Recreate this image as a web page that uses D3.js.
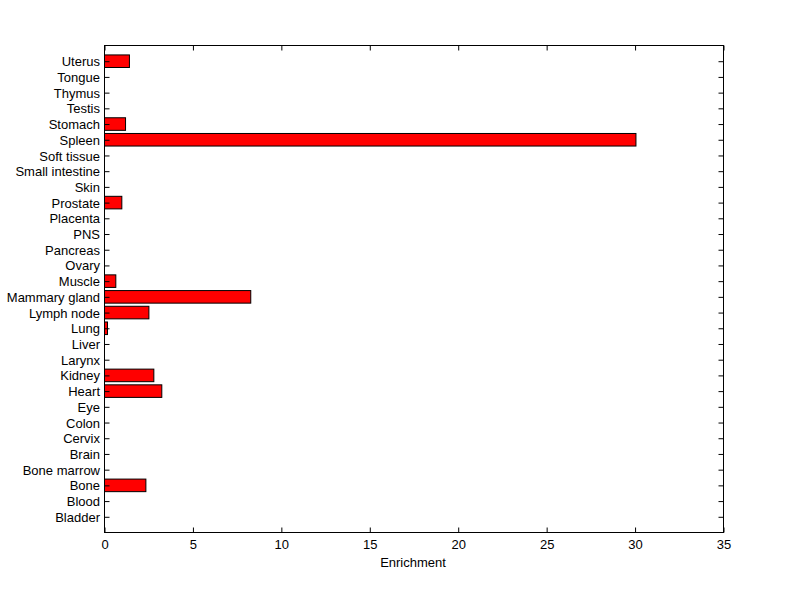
<!DOCTYPE html>
<html><head><meta charset="utf-8">
<script src="https://cdn.jsdelivr.net/npm/d3@7"></script>
<style>
body{margin:0;background:#fff;}
text{font-family:"Liberation Sans",Arial,sans-serif;font-size:13px;fill:#000;}
</style></head>
<body>
<svg id="c" width="800" height="599"></svg>
<script>
const categories = ["Bladder","Blood","Bone","Bone marrow","Brain","Cervix","Colon","Eye","Heart","Kidney","Larynx","Liver","Lung","Lymph node","Mammary gland","Muscle","Ovary","Pancreas","PNS","Placenta","Prostate","Skin","Small intestine","Soft tissue","Spleen","Stomach","Testis","Thymus","Tongue","Uterus"];
const values = [0,0,2.34,0,0,0,0,0,3.24,2.79,0,0,0.17,2.51,8.27,0.64,0,0,0,0,0.98,0,0,0,30.05,1.19,0,0,0,1.41];
const xTicks = [0,5,10,15,20,25,30,35];
const xLabel = "Enrichment";

const svg = d3.select("#c");
const L=104.5, R=723.5, T=45.5, B=532.5;
const FS = 13;
const FF = '"Liberation Sans",Arial,sans-serif';
const x = d3.scaleLinear().domain([0,35]).range([L,R]);
const y = d3.scaleLinear().domain([0,categories.length+1]).range([B,T]);
const bw = (y(0)-y(0.8));

// bars
svg.append("g").selectAll("rect").data(values).enter().append("rect")
  .attr("x", x(0))
  .attr("y", (d,i)=>y(i+1)-bw/2)
  .attr("width", d=>Math.max(0,x(d)-x(0)))
  .attr("height", bw)
  .attr("fill","#ff0000").attr("stroke","#000").attr("stroke-width",1)
  .style("display", d=>d>0?null:"none");

const tl = 5;
const gx = svg.append("g").attr("transform",`translate(0,${B})`)
  .call(d3.axisBottom(x).tickValues(xTicks).tickSize(-tl).tickPadding(7.5).tickFormat(d3.format("d")));
const gxt = svg.append("g").attr("transform",`translate(0,${T})`)
  .call(d3.axisTop(x).tickValues(xTicks).tickSize(-tl).tickFormat(""));
const yTickVals = categories.map((c,i)=>i+1);
const gy = svg.append("g").attr("transform",`translate(${L},0)`)
  .call(d3.axisLeft(y).tickValues(yTickVals).tickSize(-tl).tickPadding(4.5).tickFormat((d)=>categories[d-1]));
const gyr = svg.append("g").attr("transform",`translate(${R},0)`)
  .call(d3.axisRight(y).tickValues(yTickVals).tickSize(-tl).tickFormat(""));
[gx,gxt,gy,gyr].forEach(g=>{
  g.select(".domain").remove();
  g.selectAll("line").attr("stroke","#000");
  g.selectAll("text").attr("font-size",FS).attr("font-family",FF).attr("fill","#000");
});
gy.selectAll("text").attr("dy","0.35em");
svg.append("rect").attr("x",L).attr("y",T).attr("width",R-L).attr("height",B-T)
  .attr("fill","none").attr("stroke","#000").attr("stroke-width",1);
svg.append("text").attr("x",(L+R)/2 - 1).attr("y",567).attr("text-anchor","middle")
  .attr("font-size",FS).attr("font-family",FF).text(xLabel);
</script>
</body></html>
